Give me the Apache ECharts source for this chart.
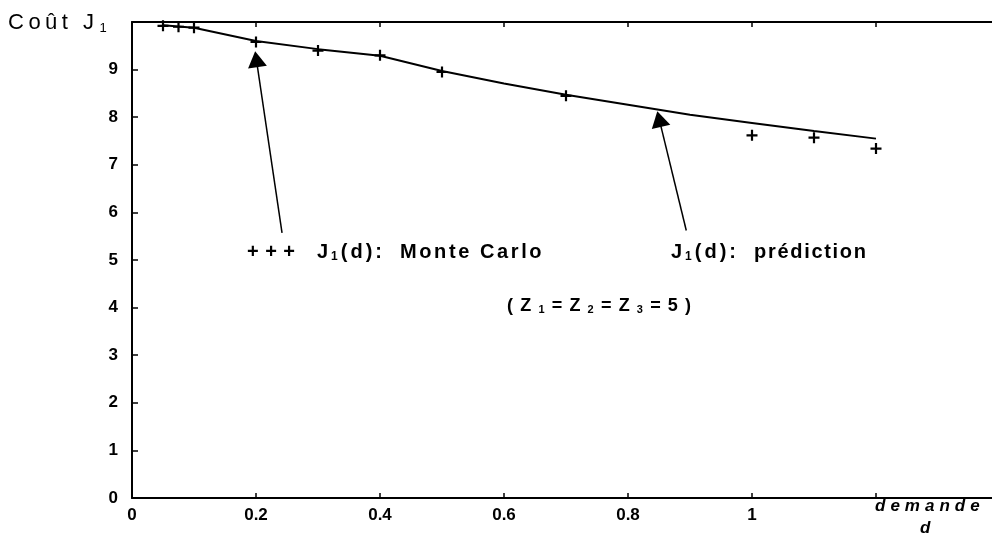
<!DOCTYPE html>
<html>
<head>
<meta charset="utf-8">
<script src="https://cdn.jsdelivr.net/npm/echarts@6/dist/echarts.min.js"></script>
<style>
  html, body { margin: 0; padding: 0; background: #ffffff; }
  #chart { width: 992px; height: 539px; }
</style>
</head>
<body>
<div id="chart"></div>
<script>
// Monte Carlo estimates of the cost J1 versus demand d
const demandeMC = [0.05, 0.075, 0.1, 0.2, 0.3, 0.4, 0.5, 0.7, 1.0, 1.1, 1.2];
const coutMC    = [9.92, 9.90, 9.88, 9.58, 9.40, 9.30, 8.95, 8.45, 7.62, 7.57, 7.34];

// Predicted cost J1(d)
const demandePred = [0.05, 0.1, 0.2, 0.3, 0.4, 0.5, 0.6, 0.7, 0.8, 0.9, 1.0, 1.1, 1.2];
const coutPred    = [9.93, 9.88, 9.60, 9.43, 9.29, 8.97, 8.71, 8.47, 8.26, 8.05, 7.88, 7.71, 7.55];

// Tick labels
const xTickLabels = ['0', '0.2', '0.4', '0.6', '0.8', '1'];
const yTickLabels = ['0', '1', '2', '3', '4', '5', '6', '7', '8', '9'];

// Annotation arrows (data coordinates: [d, J1]), tail -> head
const arrowMC   = [[0.242, 5.57], [0.2005, 9.22]];
const arrowPred = [[0.894, 5.62], [0.8503, 7.96]];

const FONT = '"Liberation Sans", Arial, Helvetica, sans-serif';
const INK = '#000000';

const chart = echarts.init(document.getElementById('chart'), null, { renderer: 'canvas' });

// filled cross used as the Monte Carlo marker
const plusPath = 'path://M4,0H6V4H10V6H6V10H4V6H0V4H4Z';

const xTickText = v => {
  const i = Math.round(v / 0.2);
  return i < xTickLabels.length ? xTickLabels[i] : '';
};
const yTickText = v => {
  const i = Math.round(v);
  return i < yTickLabels.length ? yTickLabels[i] : '';
};

// Split a string into rich-text tokens so each glyph gets its own trailing gap
function spaced(str, style) {
  return Array.from(str).map(ch => '{' + style + '|' + ch + '}').join('');
}
function tok(size, gap, opts) {
  return Object.assign({
    fontFamily: FONT, fontWeight: 'bold', fontSize: size, color: INK,
    padding: [0, gap, 0, 0]
  }, opts || {});
}

const legendRich = {
  p: tok(20, 6.5),
  j: tok(20, 3),
  s: tok(12, 3, { padding: [9, 3, 0, 0] }),
  m: tok(20, 2.6),
  r: tok(20, 1.7)
};

function label(left, top, text, rich) {
  return { type: 'text', left: left, top: top, silent: true, style: { text: text, rich: rich } };
}

const option = {
  backgroundColor: '#ffffff',
  animation: false,
  grid: { left: 132, top: 22, width: 868, height: 476, containLabel: false, outerBoundsMode: 'none' },
  xAxis: [{
    type: 'value', min: 0, max: 1.4, interval: 0.2, position: 'bottom',
    axisLine: { show: true, onZero: false, lineStyle: { color: INK, width: 2 } },
    axisTick: { show: true, inside: true, length: 5, lineStyle: { color: INK, width: 1.5 } },
    axisLabel: { margin: 9, color: INK, fontFamily: FONT, fontWeight: 'bold', fontSize: 17, formatter: xTickText },
    splitLine: { show: false }
  }, {
    type: 'value', min: 0, max: 1.4, interval: 0.2, position: 'top',
    axisLine: { show: true, onZero: false, lineStyle: { color: INK, width: 2 } },
    axisTick: { show: true, inside: true, length: 5, lineStyle: { color: INK, width: 1.5 } },
    axisLabel: { show: false },
    splitLine: { show: false }
  }],
  yAxis: [{
    type: 'value', min: 0, max: 10, interval: 1, position: 'left',
    axisLine: { show: true, onZero: false, lineStyle: { color: INK, width: 2 } },
    axisTick: { show: true, inside: true, length: 6, lineStyle: { color: INK, width: 1.5 } },
    axisLabel: { margin: 14, color: INK, fontFamily: FONT, fontWeight: 'bold', fontSize: 17, formatter: yTickText },
    splitLine: { show: false }
  }, {
    type: 'value', min: 0, max: 10, interval: 1, position: 'right',
    axisLine: { show: true, onZero: false, lineStyle: { color: INK, width: 2 } },
    axisTick: { show: true, inside: true, length: 6, lineStyle: { color: INK, width: 1.5 } },
    axisLabel: { show: false },
    splitLine: { show: false }
  }],
  series: [{
    name: 'J1(d): prédiction',
    type: 'line',
    data: demandePred.map((d, i) => [d, coutPred[i]]),
    showSymbol: false,
    smooth: false,
    lineStyle: { color: INK, width: 2 },
    markLine: {
      silent: true,
      symbol: ['none', 'triangle'],
      symbolSize: [19, 16],
      label: { show: false },
      lineStyle: { color: INK, width: 1.5, type: 'solid' },
      itemStyle: { color: INK },
      data: [
        [{ coord: arrowMC[0] }, { coord: arrowMC[1] }],
        [{ coord: arrowPred[0] }, { coord: arrowPred[1] }]
      ]
    }
  }, {
    name: 'J1(d): Monte Carlo',
    type: 'scatter',
    data: demandeMC.map((d, i) => [d, coutMC[i]]),
    symbol: plusPath,
    symbolSize: 11,
    itemStyle: { color: INK, opacity: 1 }
  }],
  graphic: [
    // y-axis title
    label(8, 12, spaced('Coût', 'c') + '{c| }{c|J}{s|1}', {
      c: tok(22, 4.5, { fontWeight: 'normal' }),
      s: tok(13, 0, { fontWeight: 'normal', padding: [10, 0, 0, 1] })
    }),
    // x-axis title
    label(875, 498, spaced('demande', 'd'), { d: tok(17, 5, { fontStyle: 'italic' }) }),
    label(920, 520, '{d|d}', { d: tok(17, 0, { fontStyle: 'italic' }) }),
    // Monte Carlo annotation
    label(247, 242, spaced('+++', 'p'), legendRich),
    label(317, 242, '{j|J}{s|1}' + spaced('(d):', 'j'), legendRich),
    label(400, 242, spaced('Monte Carlo', 'm'), legendRich),
    // prediction annotation
    label(671, 242, '{j|J}{s|1}' + spaced('(d):', 'j'), legendRich),
    label(754, 242, spaced('prédiction', 'r'), legendRich),
    // parameters
    label(507, 297,
      spaced('(Z', 'z') + '{u|1}' + spaced('=Z', 'z') + '{u|2}' + spaced('=Z', 'z') + '{u|3}' + spaced('=5)', 'z'), {
        z: tok(18, 7.2),
        u: tok(11, 7.2, { padding: [8, 7.2, 0, 0] })
      })
  ]
};

chart.setOption(option);
</script>
</body>
</html>
